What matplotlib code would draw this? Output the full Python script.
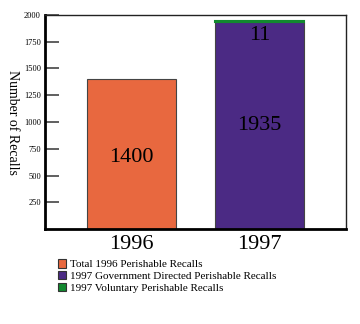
import matplotlib
matplotlib.use("Agg")
import matplotlib.pyplot as plt
from matplotlib.patches import Patch

years = ["1996", "1997"]
total_1996 = [1400, 0]
gov_1997 = [0, 1935]
vol_1997 = [0, 11]
yticks = [250, 500, 750, 1000, 1250, 1500, 1750, 2000]
legend_labels = ["Total 1996 Perishable Recalls",
                 "1997 Government Directed Perishable Recalls",
                 "1997 Voluntary Perishable Recalls"]
colors = ["#E8683F", "#4B2A84", "#12892F"]

plt.rcParams['font.family'] = ['Liberation Serif', 'DejaVu Serif']

fig = plt.figure(figsize=(3.6, 3.24), dpi=100)
ax = fig.add_axes([0.125, 0.293, 0.836, 0.661])
x = [0, 1]
w = 0.69
ax.bar(x[0], total_1996[0], width=w, color=colors[0], edgecolor="#444444", linewidth=0.8)
ax.bar(x[1], gov_1997[1], width=w, color=colors[1], edgecolor="#444444", linewidth=0.8)
ax.bar(x[1], vol_1997[1], bottom=gov_1997[1], width=w, color=colors[2], edgecolor=colors[2], linewidth=1.5)

ax.text(x[0], total_1996[0] * 0.48, str(total_1996[0]), ha="center", va="center", fontsize=16)
ax.text(x[1], gov_1997[1] * 0.5, str(gov_1997[1]), ha="center", va="center", fontsize=16)
ax.text(x[1], 1810, str(vol_1997[1]), ha="center", va="center", fontsize=16)

ax.set_xlim(-0.67, 1.67)
ax.set_ylim(0, 1975)
ax.set_xticks(x)
ax.set_xticklabels(years, fontsize=16)
ax.tick_params(axis="x", length=0, pad=4)
ax.set_yticks(yticks)
ax.set_yticklabels([str(t) for t in yticks], fontsize=6)
ax.tick_params(axis="y", direction="in", length=10, width=1.2, color="#444444", pad=3)
ax.set_ylabel("Number of Recalls", fontsize=10, rotation=270, labelpad=13)
for s in ["left", "bottom"]:
    ax.spines[s].set_linewidth(2)
    ax.spines[s].set_color("black")
for s in ["top", "right"]:
    ax.spines[s].set_linewidth(1)
    ax.spines[s].set_color("#222222")

handles = [Patch(facecolor=c, edgecolor="#333333", linewidth=0.8) for c in colors]
fig.legend(handles, legend_labels, loc="upper left", bbox_to_anchor=(0.16, 0.2),
           frameon=False, fontsize=8, handlelength=0.8, handleheight=0.8,
           handletextpad=0.35, labelspacing=0.15, borderaxespad=0, borderpad=0)

fig.savefig("out.png", dpi=100)
